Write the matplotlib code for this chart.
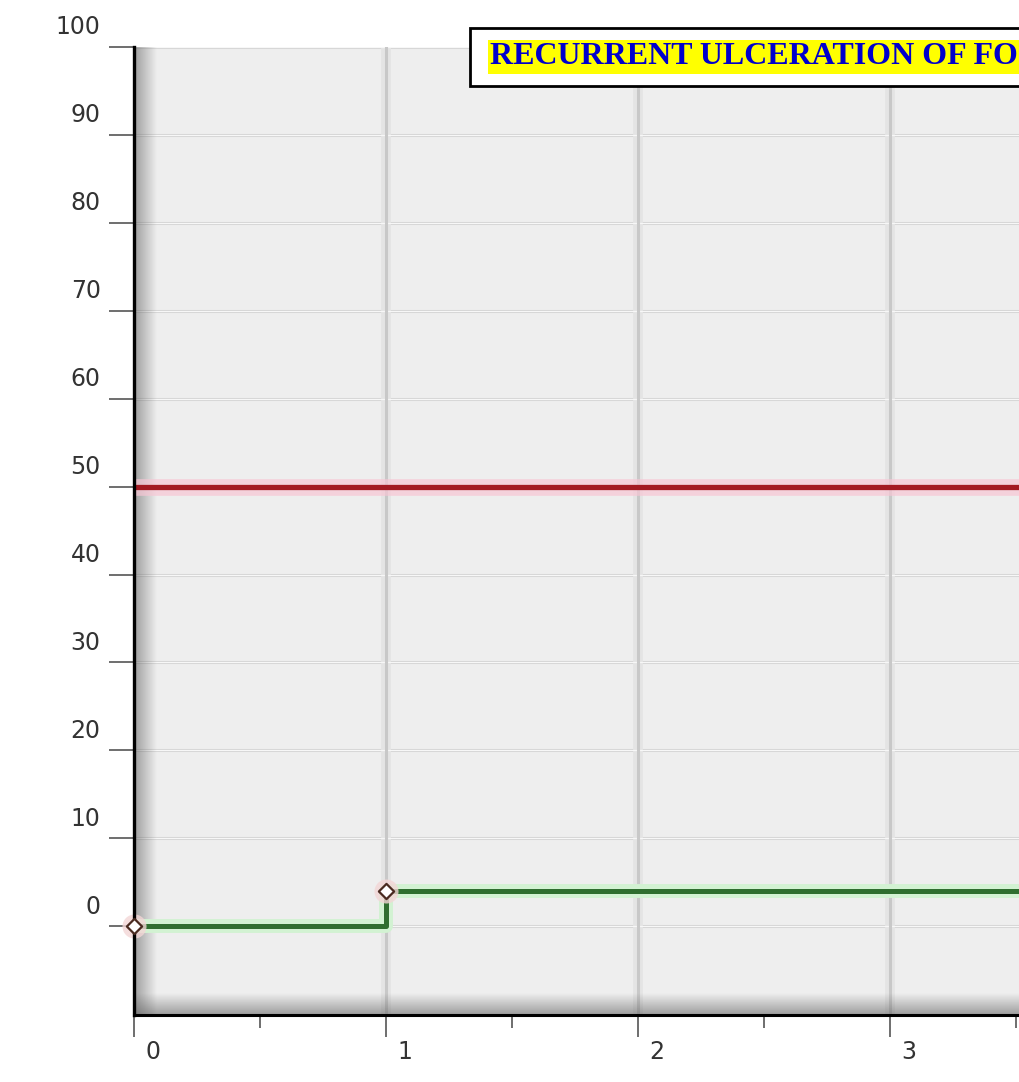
import numpy as np
import matplotlib
matplotlib.use("Agg")
import matplotlib.pyplot as plt
import matplotlib.transforms as mtrans
from matplotlib.patches import Rectangle

# --- data ---
title = "RECURRENT ULCERATION OF FOOT"
step_x = [0, 1, 4]          # green step series (last point off the right edge)
step_y = [0, 4, 4]
marker_x = [0, 1]
marker_y = [0, 4]
ref_level = 50              # red reference line
yticks = list(range(0, 101, 10))
xticks = [0, 1, 2, 3]

W, H = 1020, 1082
fig = plt.figure(figsize=(W / 100, H / 100), dpi=100)
fig.patch.set_facecolor("white")

# axes: left spine at x=134 px, bottom at y=1015 px, top (100) at y=47 px, runs past right edge
ax = fig.add_axes([134 / W, (H - 1015) / H, 1 - 134 / W, (1015 - 47) / H])
ax.set_facecolor("#eeeeee")
XMAX = (W - 134) / 252
YMIN = -10.1

# grid
for v in yticks:
    ax.axhline(v, color="#d6d6d6", lw=2.2, zorder=1)
    ax.axhline(v, color="#f7f7f7", lw=0.8, zorder=1.1)
for v in xticks[1:]:
    ax.axvline(v, color="#e4e4e4", lw=7, zorder=1)
    ax.axvline(v, color="#c8c8c8", lw=2.2, zorder=1.1)

# shadow along left and bottom spines (semi-transparent so grid shows through)
a = np.linspace(0.55, 0, 64)
sh = np.zeros((1, 64, 4))
sh[..., :3] = 0.35
sh[..., 3] = a
ax.imshow(sh, extent=[0, 0.09, YMIN, 100], aspect="auto", zorder=1.5, interpolation="bilinear")
shb = np.zeros((64, 1, 4))
shb[..., :3] = 0.35
shb[:, 0, 3] = a[::-1]
ax.imshow(shb, extent=[0, XMAX, YMIN, YMIN + 2.4], aspect="auto", zorder=1.5, interpolation="bilinear")
ax.set_xlim(0, XMAX)
ax.set_ylim(YMIN, 100)

# red reference line with glow
ax.axhline(ref_level, color="#f7c6d4", lw=12, alpha=0.7, zorder=2)
ax.axhline(ref_level, color="#a31a22", lw=3.8, zorder=3)

# green step line with glow
ax.plot(step_x, step_y, drawstyle="steps-post", color="#d2f2d2", lw=10, zorder=2)
ax.plot(step_x, step_y, drawstyle="steps-post", color="#2f6e2f", lw=3.6, zorder=3)
ax.scatter(marker_x, marker_y, s=300, color="#f3d6d6", alpha=0.8, zorder=3.5, lw=0, clip_on=False)
ax.scatter(marker_x, marker_y, marker="D", s=60, facecolor="white",
           edgecolor="#4a2a20", lw=1.6, zorder=6, clip_on=False)

# spines / ticks
for s in ["top", "right"]:
    ax.spines[s].set_visible(False)
ax.spines["left"].set_linewidth(2.4)
ax.spines["bottom"].set_linewidth(2.2)
ax.spines["left"].set_zorder(5)
ax.spines["bottom"].set_zorder(5)

ax.set_yticks(yticks)
ax.set_yticklabels([str(v) for v in yticks])
ax.set_xticks(xticks)
ax.set_xticklabels([str(v) for v in xticks])
ax.set_xticks([0.5, 1.5, 2.5, 3.5], minor=True)
ax.tick_params(axis="y", length=18, width=1.2, color="#555555", pad=6,
               labelsize=17, labelcolor="#333333")
ax.tick_params(axis="x", which="major", length=16, width=1.2, color="#555555", pad=2,
               labelsize=17, labelcolor="#333333")
ax.tick_params(axis="x", which="minor", length=9, width=1.2, color="#555555")

# labels sit above/right of their ticks in the original
for lab in ax.get_yticklabels():
    lab.set_transform(lab.get_transform() + mtrans.ScaledTranslation(0, 0.22, fig.dpi_scale_trans))
for lab in ax.get_xticklabels():
    lab.set_transform(lab.get_transform() + mtrans.ScaledTranslation(0.19, 0, fig.dpi_scale_trans))

# title box (clipped at the figure's right edge, as in the original)
fig.patches.append(Rectangle((470 / W, 1 - 86 / H), 700 / W, 58 / H, transform=fig.transFigure,
                             facecolor="white", edgecolor="black", lw=2, zorder=10))
fig.text(490 / W, 1 - 57 / H, title, ha="left", va="center", fontsize=23,
         family="Liberation Serif", weight="bold", color="#0000cc", zorder=11,
         bbox=dict(facecolor="yellow", edgecolor="none", pad=1.5))

fig.savefig("out.png", dpi=100)
